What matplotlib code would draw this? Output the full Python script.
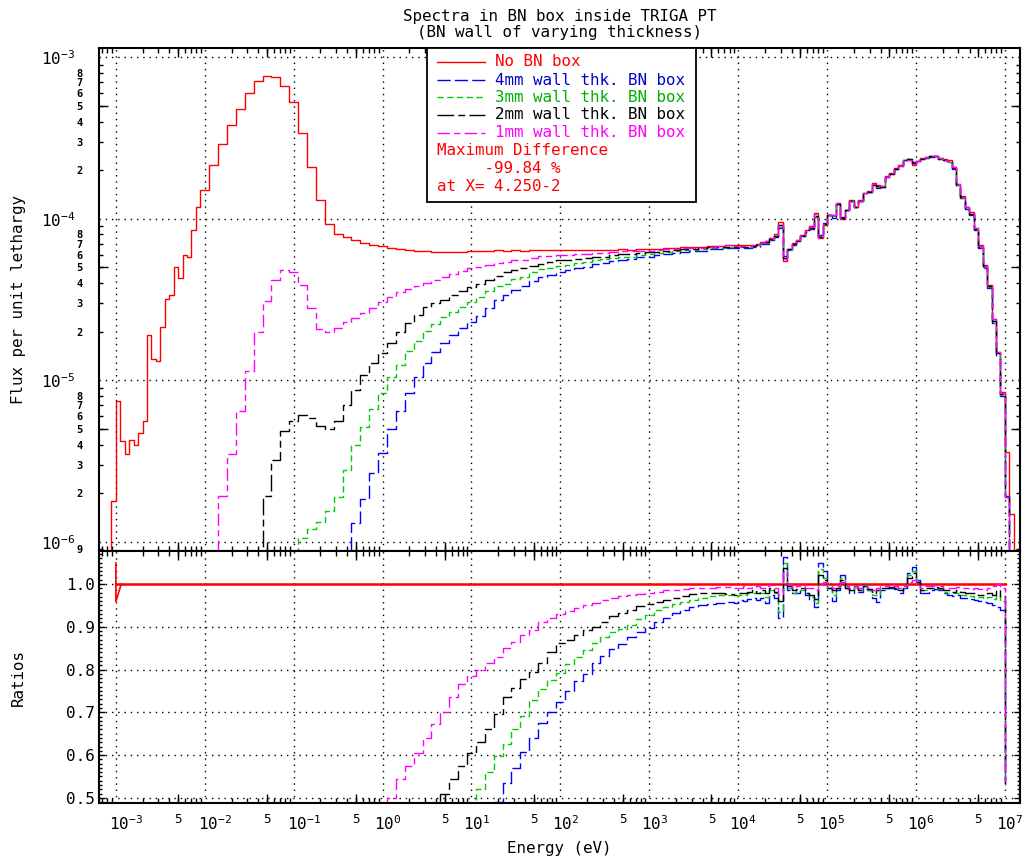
import numpy as np
import matplotlib
matplotlib.use("Agg")
import matplotlib.pyplot as plt
from matplotlib.ticker import FixedLocator, LogLocator, FuncFormatter, NullFormatter, MultipleLocator
from matplotlib.transforms import ScaledTranslation
from matplotlib.patches import Rectangle

plt.rcParams['font.family'] = ['DejaVu Sans Mono']
plt.rcParams['mathtext.default'] = 'regular'

nan = np.nan

# bin edges, log10(E / eV)
log_edges = [-3.1,
    -3.05, -3.0, -2.95, -2.9, -2.85, -2.8, -2.75, -2.7, -2.65, -2.6,
    -2.55, -2.5, -2.45, -2.4, -2.35, -2.3, -2.25, -2.2, -2.15, -2.1, -2.05,
    -1.95, -1.85, -1.75, -1.65, -1.55, -1.45, -1.35, -1.25, -1.15, -1.05,
    -0.95, -0.85, -0.75, -0.65, -0.55, -0.45, -0.35, -0.25, -0.15, -0.05,
    0.05, 0.15, 0.25, 0.35, 0.45, 0.55, 0.65, 0.75, 0.85, 0.95,
    1.05, 1.15, 1.25, 1.35, 1.45, 1.55, 1.65, 1.75, 1.85, 1.95,
    2.05, 2.15, 2.25, 2.35, 2.45, 2.55, 2.65, 2.75, 2.85, 2.95,
    3.05, 3.15, 3.25, 3.35, 3.45, 3.55, 3.65, 3.75, 3.85, 3.95,
    4.0, 4.05, 4.1, 4.15, 4.2, 4.25, 4.3, 4.35, 4.4, 4.45,
    4.5, 4.55, 4.6, 4.65, 4.7, 4.75, 4.8, 4.85, 4.9, 4.95,
    5.0, 5.05, 5.1, 5.15, 5.2, 5.25, 5.3, 5.35, 5.4, 5.45,
    5.5, 5.55, 5.6, 5.65, 5.7, 5.75, 5.8, 5.85, 5.9, 5.95,
    6.0, 6.05, 6.1, 6.15, 6.2, 6.25, 6.3, 6.35, 6.4, 6.45,
    6.5, 6.55, 6.6, 6.65, 6.7, 6.75, 6.8, 6.85, 6.9, 6.95,
    7.0, 7.05, 7.1]

# flux per unit lethargy, no BN box (one value per bin)
flux_nobn = [1e-7,
    1.8e-6, 7.5e-6, 4.2e-6, 3.5e-6, 4.3e-6, 4.0e-6, 4.7e-6, 5.6e-6, 1.9e-5, 1.35e-5,
    1.32e-5, 2.13e-5, 3.2e-5, 3.4e-5, 5.0e-5, 4.3e-5, 6.0e-5, 5.8e-5, 8.5e-5, 1.18e-4,
    1.5e-4, 2.15e-4, 2.9e-4, 3.8e-4, 4.8e-4, 6.0e-4, 7.1e-4, 7.7e-4, 7.5e-4, 6.6e-4,
    5.3e-4, 3.4e-4, 2.1e-4, 1.3e-4, 9.3e-5, 8.1e-5, 7.7e-5, 7.4e-5, 7.1e-5, 6.9e-5,
    6.75e-5, 6.6e-5, 6.5e-5, 6.4e-5, 6.35e-5, 6.3e-5, 6.25e-5, 6.2e-5, 6.2e-5, 6.25e-5,
    6.3e-5, 6.3e-5, 6.35e-5, 6.4e-5, 6.35e-5, 6.4e-5, 6.35e-5, 6.4e-5, 6.45e-5, 6.4e-5,
    6.45e-5, 6.4e-5, 6.45e-5, 6.4e-5, 6.45e-5, 6.4e-5, 6.45e-5, 6.5e-5, 6.45e-5, 6.5e-5,
    6.5e-5, 6.55e-5, 6.6e-5, 6.6e-5, 6.65e-5, 6.7e-5, 6.7e-5, 6.8e-5, 6.8e-5, 6.9e-5,
    6.9e-5, 6.9e-5, 6.85e-5, 6.85e-5, 6.9e-5, 7.0e-5, 7.2e-5, 7.3e-5, 7.6e-5, 8.0e-5,
    9.5e-5, 5.5e-5, 6.5e-5, 7.06e-5, 7.4e-5, 7.9e-5, 8.5e-5, 9.0e-5, 1.08e-4, 7.6e-5,
    9.2e-5, 1.06e-4, 1.06e-4, 1.25e-4, 1.0e-4, 1.14e-4, 1.31e-4, 1.19e-4, 1.31e-4, 1.45e-4,
    1.48e-4, 1.66e-4, 1.62e-4, 1.6e-4, 1.83e-4, 1.92e-4, 2.05e-4, 2.15e-4, 2.32e-4, 2.3e-4,
    2.16e-4, 2.27e-4, 2.38e-4, 2.42e-4, 2.46e-4, 2.46e-4, 2.38e-4, 2.35e-4, 2.3e-4, 2.1e-4,
    1.65e-4, 1.38e-4, 1.19e-4, 1.1e-4, 8.8e-5, 6.9e-5, 5.2e-5, 3.9e-5, 2.4e-5, 1.5e-5,
    8.5e-6, 3.6e-6, 1.5e-6]

# ratios to the no-box spectrum
ratio_4mm = [nan,
    1e-3, 1e-3, 1e-3, 1e-3, 1e-3, 1e-3, 1e-3, 1e-3, 1e-3, 1e-3,
    1e-3, 1e-3, 1e-3, 1e-3, 1e-3, 1e-3, 1e-3, 1e-3, 1e-3, 1e-3,
    1e-3, 1e-3, 1e-3, 1e-3, 1e-3, 1e-3, 1e-3, 1e-3, 1e-3, 1e-3,
    1e-3, 1e-3, 1e-3, 1e-3, 1e-3, 1e-3, 1e-3, 0.0176, 0.026, 0.039,
    0.053, 0.076, 0.10, 0.13, 0.165, 0.203, 0.24, 0.274, 0.306, 0.336,
    0.365, 0.397, 0.44, 0.49, 0.535, 0.57, 0.607, 0.64, 0.675, 0.70,
    0.725, 0.75, 0.772, 0.79, 0.815, 0.832, 0.848, 0.86, 0.876, 0.888,
    0.898, 0.91, 0.92, 0.932, 0.94, 0.945, 0.95, 0.952, 0.955, 0.957,
    0.955, 0.962, 0.96, 0.965, 0.968, 0.962, 0.967, 0.955, 0.975, 0.968,
    0.92, 1.063, 0.985, 0.978, 0.98, 0.985, 0.975, 0.962, 0.945, 1.05,
    1.03, 0.99, 0.96, 0.985, 1.02, 0.99, 0.98, 0.995, 0.982, 1.0,
    0.985, 0.968, 0.958, 0.985, 0.99, 0.99, 0.988, 0.98, 0.99, 1.025,
    1.04, 1.01, 0.98, 0.978, 0.985, 0.988, 0.985, 0.978, 0.975, 0.972,
    0.975, 0.968, 0.968, 0.965, 0.962, 0.96, 0.958, 0.955, 0.95, 0.945,
    0.94, 0.535, 0.5]

ratio_3mm = [nan,
    1e-3, 1e-3, 1e-3, 1e-3, 1e-3, 1e-3, 1e-3, 1e-3, 1e-3, 1e-3,
    1e-3, 1e-3, 1e-3, 1e-3, 1e-3, 1e-3, 1e-3, 1e-3, 1e-3, 1e-3,
    1e-3, 1e-3, 1e-3, 1e-3, 1e-3, 1e-3, 1e-3, 1e-3, 1e-3, 1e-3,
    1e-3, 0.0031, 0.0057, 0.0102, 0.0167, 0.0235, 0.036, 0.054, 0.073, 0.096,
    0.123, 0.159, 0.192, 0.238, 0.277, 0.32, 0.36, 0.40, 0.43, 0.458,
    0.485, 0.52, 0.56, 0.598, 0.625, 0.66, 0.692, 0.728, 0.755, 0.775,
    0.792, 0.812, 0.83, 0.845, 0.862, 0.876, 0.888, 0.895, 0.905, 0.918,
    0.928, 0.938, 0.945, 0.952, 0.958, 0.963, 0.968, 0.972, 0.974, 0.975,
    0.972, 0.975, 0.975, 0.978, 0.98, 0.983, 0.978, 0.97, 0.985, 0.978,
    0.935, 1.05, 0.99, 0.98, 0.985, 0.985, 0.978, 0.97, 0.955, 1.035,
    1.015, 0.99, 0.975, 0.99, 1.015, 0.99, 0.985, 0.992, 0.985, 0.997,
    0.985, 0.975, 0.975, 0.99, 0.99, 0.99, 0.99, 0.985, 0.99, 1.02,
    1.03, 1.01, 0.985, 0.985, 0.99, 0.99, 0.988, 0.982, 0.98, 0.978,
    0.98, 0.975, 0.975, 0.972, 0.97, 0.97, 0.968, 0.97, 0.965, 0.975,
    0.96, 0.53, 0.5]

ratio_2mm = [nan,
    1e-3, 1e-3, 1e-3, 1e-3, 1e-3, 1e-3, 1e-3, 1e-3, 1e-3, 1e-3,
    1e-3, 1e-3, 1e-3, 1e-3, 1e-3, 1e-3, 1e-3, 1e-3, 1e-3, 1e-3,
    1e-3, 1e-3, 1e-3, 1e-3, 1e-3, 1e-3, 1e-3, 0.0025, 0.0043, 0.0074,
    0.0106, 0.018, 0.028, 0.040, 0.054, 0.069, 0.091, 0.118, 0.152, 0.186,
    0.218, 0.26, 0.305, 0.356, 0.40, 0.452, 0.485, 0.51, 0.545, 0.575,
    0.605, 0.63, 0.66, 0.695, 0.735, 0.757, 0.777, 0.795, 0.815, 0.84,
    0.862, 0.87, 0.88, 0.892, 0.90, 0.912, 0.925, 0.932, 0.938, 0.948,
    0.952, 0.958, 0.962, 0.968, 0.972, 0.976, 0.979, 0.98, 0.978, 0.976,
    0.975, 0.98, 0.978, 0.982, 0.985, 0.98, 0.985, 0.978, 0.99, 0.982,
    0.96, 1.038, 0.995, 0.985, 0.988, 0.99, 0.98, 0.975, 0.965, 1.02,
    1.01, 0.99, 0.985, 0.99, 1.01, 0.99, 0.985, 0.99, 0.985, 0.995,
    0.988, 0.98, 0.985, 0.99, 0.99, 0.992, 0.99, 0.985, 0.99, 1.015,
    1.025, 1.005, 0.985, 0.99, 0.99, 0.992, 0.99, 0.985, 0.985, 0.982,
    0.985, 0.982, 0.98, 0.98, 0.978, 0.975, 0.975, 0.98, 0.975, 0.985,
    0.97, 0.53, 0.5]

ratio_1mm = [nan,
    1e-3, 1e-3, 1e-3, 1e-3, 1e-3, 1e-3, 1e-3, 1e-3, 1e-3, 1e-3,
    1e-3, 1e-3, 1e-3, 1e-3, 1e-3, 1e-3, 1e-3, 1e-3, 1e-3, 1e-3,
    1e-3, 1e-3, 0.0066, 0.0092, 0.0135, 0.019, 0.028, 0.040, 0.056, 0.073,
    0.089, 0.115, 0.133, 0.16, 0.215, 0.26, 0.30, 0.33, 0.366, 0.405,
    0.45, 0.50, 0.545, 0.575, 0.605, 0.64, 0.672, 0.70, 0.735, 0.765,
    0.785, 0.80, 0.815, 0.83, 0.85, 0.865, 0.88, 0.892, 0.91, 0.92,
    0.93, 0.937, 0.944, 0.95, 0.956, 0.962, 0.968, 0.972, 0.975, 0.977,
    0.979, 0.982, 0.985, 0.987, 0.988, 0.99, 0.991, 0.99, 0.992, 0.993,
    0.99, 0.99, 0.995, 0.99, 0.993, 0.995, 0.99, 0.995, 0.997, 0.99,
    0.975, 1.03, 1.0, 0.99, 0.995, 0.998, 0.99, 0.99, 0.985, 1.0,
    1.005, 0.995, 0.99, 0.995, 1.005, 0.995, 0.99, 0.995, 0.99, 0.995,
    0.99, 0.985, 0.99, 0.995, 0.995, 1.0, 0.995, 0.99, 0.995, 1.005,
    1.01, 1.0, 0.99, 0.995, 0.995, 0.998, 0.995, 0.99, 0.99, 0.99,
    0.992, 0.99, 0.99, 0.988, 0.99, 0.988, 0.985, 0.99, 0.995, 1.0,
    0.99, 0.527, 0.5]

# glitch of the no-box ratio at the first energy
nobn_spike_e = [1.0e-3, 1.0e-3, 1.15e-3]
nobn_spike_ratio = [1.049, 0.959, 1.0]

labels = ["No BN box", "4mm wall thk. BN box", "3mm wall thk. BN box",
          "2mm wall thk. BN box", "1mm wall thk. BN box"]
max_diff_text = ["Maximum Difference", "     -99.84 %", "at X= 4.250-2"]

FLOOR = 1e-7   # below the plotted range, closes the step lines

edges = 10.0 ** np.array(log_edges)
flux0 = np.array(flux_nobn)
cut = int(np.argmin(np.abs(np.array(log_edges) - 7.0)))

series = [
    (ratio_4mm, '#0000ff', '#0000cc', (9.5, 3.0)),
    (ratio_3mm, '#00cc00', '#00b000', (4.5, 2.5)),
    (ratio_2mm, 'black', 'black', (12, 3, 5, 3)),
    (ratio_1mm, '#ff00ff', '#ff00ff', (9, 3, 4.5, 3)),
]

fig = plt.figure(figsize=(10.26, 8.61), dpi=100)
ax = fig.add_axes([99/1026, 1 - 551/861, 921/1026, 503/861])
axr = fig.add_axes([99/1026, 1 - 803/861, 921/1026, 252/861])

# spectra
ax.plot(edges, np.append(flux0, FLOOR), drawstyle='steps-post', color='red', lw=1.0)
for ratio, color, tcolor, dashes in series:
    flux = np.array(ratio) * flux0
    ax.plot(edges, np.append(flux, FLOOR), drawstyle='steps-post', color=color,
            lw=1.0, dashes=dashes)

# ratios
ratio0 = flux0 / flux0
ratio0[:2] = np.nan
axr.plot(edges[:cut + 1], np.append(ratio0[:cut], ratio0[cut]), drawstyle='steps-post',
         color='red', lw=1.8)
axr.plot(nobn_spike_e, nobn_spike_ratio, color='red', lw=1.2)
for ratio, color, tcolor, dashes in series:
    r = np.array(ratio)
    axr.plot(edges[:cut + 1], np.append(r[:cut], r[cut]), drawstyle='steps-post',
             color=color, lw=1.0, dashes=dashes)

xmin, xmax = 10 ** -3.19, 10 ** 7.17
ymin, ymax = 8.8e-7, 1.14e-3
decades_x = [10.0 ** d for d in range(-3, 8)]
fives_x = [5 * 10.0 ** d for d in range(-4, 7)]
subs = [2, 3, 4, 5, 6, 7, 8, 9]


def decade_label(v, pos):
    return r'$10^{%d}$' % int(round(np.log10(v)))


def mantissa(v):
    return int(round(v / 10.0 ** np.floor(np.log10(v) + 1e-9)))


def five_label(v, pos):
    if not (xmin <= v <= xmax):
        return ''
    return '5' if mantissa(v) == 5 else ''


def digit_label(v, pos):
    if not (ymin <= v <= ymax):
        return ''
    m = mantissa(v)
    if 2 <= m <= 8 or (m == 9 and v < 1e-6):
        return str(m)
    return ''


grid_kw = dict(color='black', linestyle=(0, (1, 3.5)), linewidth=1.0)

# top panel axes
ax.set_xscale('log')
ax.set_yscale('log')
ax.set_xlim(xmin, xmax)
ax.set_ylim(ymin, ymax)
ax.xaxis.set_major_locator(FixedLocator(decades_x))
ax.xaxis.set_minor_locator(LogLocator(base=10, subs=subs, numticks=100))
ax.xaxis.set_major_formatter(NullFormatter())
ax.xaxis.set_minor_formatter(NullFormatter())
ax.yaxis.set_major_locator(FixedLocator([1e-6, 1e-5, 1e-4, 1e-3]))
ax.yaxis.set_minor_locator(LogLocator(base=10, subs=subs, numticks=100))
ax.yaxis.set_major_formatter(FuncFormatter(decade_label))
ax.yaxis.set_minor_formatter(FuncFormatter(digit_label))
ax.grid(True, which='major', **grid_kw)
ax.tick_params(which='both', direction='in', top=True, right=True, width=1.0)
ax.tick_params(which='major', length=0)
ax.tick_params(axis='y', which='major', labelsize=11.5, pad=17)
ax.tick_params(axis='y', which='minor', length=3, labelsize=7.5, pad=12)
ax.tick_params(axis='x', which='minor', length=3.5)
for t in ax.yaxis.get_minor_ticks():
    t.label1.set_fontweight('bold')
ax.vlines(fives_x, 0, 9 / 503, transform=ax.get_xaxis_transform(), color='black', lw=1.0)
ax.vlines(fives_x, 1 - 9 / 503, 1, transform=ax.get_xaxis_transform(), color='black', lw=1.0)
ax.hlines([5e-7, 5e-6, 5e-5, 5e-4], 0, 9 / 921, transform=ax.get_yaxis_transform(),
          color='black', lw=1.0)
ax.hlines([5e-7, 5e-6, 5e-5, 5e-4], 1 - 9 / 921, 1, transform=ax.get_yaxis_transform(),
          color='black', lw=1.0)
ax.set_ylabel('Flux per unit lethargy', fontsize=11.4)
ax.yaxis.set_label_coords(-0.079, 0.5)

# bottom panel axes
axr.set_xscale('log')
axr.set_xlim(xmin, xmax)
axr.set_ylim(0.488, 1.077)
axr.xaxis.set_major_locator(FixedLocator(decades_x))
axr.xaxis.set_minor_locator(LogLocator(base=10, subs=subs, numticks=100))
axr.xaxis.set_major_formatter(FuncFormatter(decade_label))
axr.xaxis.set_minor_formatter(FuncFormatter(five_label))
axr.yaxis.set_major_locator(MultipleLocator(0.1))
axr.yaxis.set_minor_locator(MultipleLocator(0.01))
axr.yaxis.set_major_formatter(FuncFormatter(lambda v, p: '%.1f' % v))
axr.grid(True, which='major', **grid_kw)
axr.tick_params(which='both', direction='in', top=True, right=True, width=1.0)
axr.tick_params(axis='x', which='major', length=0, labelsize=11.5, pad=8)
axr.tick_params(axis='x', which='minor', length=3.5, labelsize=9, pad=7)
axr.tick_params(axis='y', which='major', length=4, labelsize=11.5, pad=3)
axr.tick_params(axis='y', which='minor', length=2)
axr.vlines(fives_x, 0, 9 / 252, transform=axr.get_xaxis_transform(), color='black', lw=1.0)
axr.vlines(fives_x, 1 - 9 / 252, 1, transform=axr.get_xaxis_transform(), color='black', lw=1.0)
axr.set_ylabel('Ratios', fontsize=11.4)
axr.yaxis.set_label_coords(-0.079, 0.5)
axr.set_xlabel('Energy (eV)', fontsize=11.4)
axr.xaxis.set_label_coords(0.5, -0.152)

for a in (ax, axr):
    for s in a.spines.values():
        s.set_linewidth(1.5)

# keep the "10" of each decade label over its tick
for d, t in zip(range(-3, 8), axr.xaxis.get_major_ticks()):
    shift = 5 * len(str(d)) / 100
    t.label1.set_transform(t.label1.get_transform() +
                           ScaledTranslation(shift, 0, fig.dpi_scale_trans))

# legend box
ax.add_patch(Rectangle((0.356, 0.694), 0.292, 0.306, transform=ax.transAxes,
                       facecolor='white', edgecolor='black', lw=1.3, zorder=10))
rows = [0.973, 0.936, 0.902, 0.867, 0.832]
line_styles = [('red', 'red', None)] + [(c, tc, d) for _, c, tc, d in series]
for y, lab, (c, tc, d) in zip(rows, labels, line_styles):
    kw = dict(color=c, lw=1.0, transform=ax.transAxes, zorder=11)
    if d is not None:
        kw['dashes'] = d
    ax.plot([0.367, 0.419], [y, y], **kw)
    ax.text(0.430, y, lab, color=tc, fontsize=11.4, va='center', ha='left',
            transform=ax.transAxes, zorder=11)
for y, txt in zip([0.796, 0.761, 0.724], max_diff_text):
    ax.text(0.367, y, txt, color='red', fontsize=11.4, va='center', ha='left',
            transform=ax.transAxes, zorder=11)

fig.text(559.5 / 1026, 1 - 16 / 861, 'Spectra in BN box inside TRIGA PT',
         ha='center', va='center', fontsize=11.4)
fig.text(559.5 / 1026, 1 - 33 / 861, '(BN wall of varying thickness)',
         ha='center', va='center', fontsize=11.4)

fig.savefig('out.png', dpi=100)
